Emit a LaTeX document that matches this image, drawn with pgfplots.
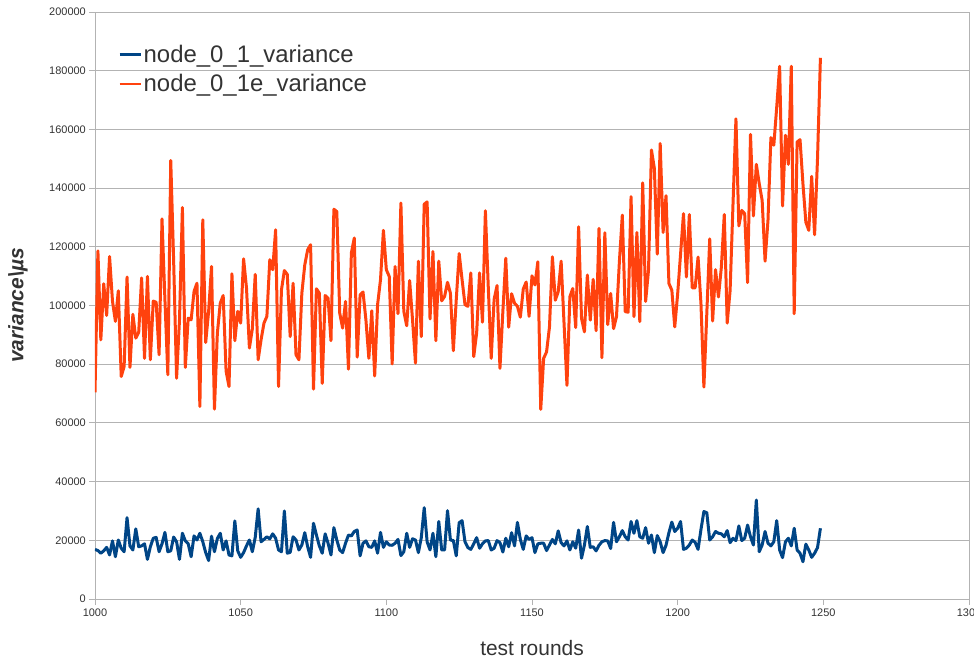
\documentclass[border=0pt]{standalone}
\usepackage{pgfplots}
\pgfplotsset{compat=1.18}
\usepackage{pgfplotstable}
\usepackage{fontspec}
\setmainfont{Liberation Sans}
\definecolor{serA}{HTML}{004586}
\definecolor{serB}{HTML}{FF420E}
\definecolor{gridc}{HTML}{B3B3B3}
\definecolor{txt}{HTML}{333333}
\pgfplotstableread{
x a b
1000 16900 70400
1001 16500 118600
1002 15600 88300
1003 16400 107400
1004 17600 96600
1005 15000 116700
1006 19800 101500
1007 14400 94600
1008 20100 105000
1009 17300 75800
1010 16100 79200
1011 27700 109700
1012 18100 78900
1013 16700 97000
1014 23900 88900
1015 17800 90800
1016 18100 109400
1017 18800 82000
1018 13500 109900
1019 17800 81500
1020 20700 101500
1021 21000 101100
1022 16100 83200
1023 18800 129500
1024 22700 102000
1025 16100 76400
1026 16400 149400
1027 21100 115000
1028 19500 75200
1029 13500 95000
1030 22400 133400
1031 19800 78900
1032 18800 95700
1033 14400 95100
1034 21500 104800
1035 20100 107600
1036 22400 65600
1037 19500 129200
1038 15800 87400
1039 13100 98000
1040 21400 113300
1041 16100 64700
1042 20600 90600
1043 22400 100800
1044 16700 103400
1045 19800 77600
1046 15000 72400
1047 14700 110800
1048 26600 88000
1049 16400 98000
1050 14200 94000
1051 15800 115900
1052 18100 106000
1053 20100 85500
1054 16100 92000
1055 21000 110600
1056 30700 81500
1057 19500 88300
1058 20300 94000
1059 21200 96300
1060 20500 115600
1061 22200 112200
1062 20700 125800
1063 16700 72400
1064 16100 105300
1065 30000 111900
1066 15600 110600
1067 15900 89400
1068 21200 107600
1069 20100 83200
1070 16700 81500
1071 18400 104200
1072 22600 113800
1073 17800 119000
1074 14200 120700
1075 25800 71500
1076 21800 105700
1077 18100 104200
1078 15600 73500
1079 22200 103400
1080 19000 102500
1081 15000 88000
1082 24300 132800
1083 20100 132000
1084 16700 97400
1085 15800 92300
1086 19000 101400
1087 21800 78300
1088 21500 117900
1089 23000 123000
1090 23500 82400
1091 14700 103600
1092 19000 104600
1093 19800 95000
1094 17800 82000
1095 17600 98200
1096 19800 76000
1097 15600 100300
1098 22700 108800
1099 17600 125600
1100 19500 112200
1101 18400 109900
1102 18300 80100
1103 19000 113300
1104 20300 97200
1105 14800 134900
1106 16100 98000
1107 22400 93100
1108 17600 108500
1109 20500 95000
1110 20100 80400
1111 15800 115100
1112 20900 89400
1113 31100 134500
1114 19500 135300
1115 16700 95400
1116 22400 118400
1117 14400 88000
1118 26400 115100
1119 16700 101600
1120 16700 103100
1121 30100 107900
1122 20100 104200
1123 19900 84600
1124 14700 102000
1125 26000 117700
1126 26700 108800
1127 19500 100300
1128 17500 99700
1129 16900 111100
1130 18800 82600
1131 20900 90600
1132 17300 111100
1133 18800 94300
1134 19800 132300
1135 19900 106000
1136 16700 82000
1137 17300 102100
1138 19900 106800
1139 19200 78600
1140 16000 98000
1141 20700 116100
1142 17800 92600
1143 22600 104000
1144 18100 100800
1145 26100 99700
1146 20300 96000
1147 16900 105600
1148 21500 108000
1149 20300 96300
1150 20900 110100
1151 15800 107000
1152 18800 114900
1153 19000 64600
1154 19000 82000
1155 16500 84200
1156 18400 92700
1157 20300 116600
1158 18800 101800
1159 23200 104700
1160 19200 115100
1161 18100 93900
1162 19800 72800
1163 16700 103000
1164 19500 105800
1165 17300 92500
1166 23500 126800
1167 13900 95600
1168 18400 91000
1169 24700 110400
1170 17600 95000
1171 17800 108900
1172 16400 91400
1173 18300 126300
1174 19500 82200
1175 19900 124800
1176 19800 93500
1177 17200 104100
1178 26100 92100
1179 19500 96200
1180 21200 115000
1181 23300 130800
1182 21200 97900
1183 20100 97700
1184 26400 137100
1185 22400 96200
1186 26700 124900
1187 21200 94500
1188 20700 141800
1189 24300 101400
1190 19000 112100
1191 21800 153000
1192 15800 146700
1193 21600 117500
1194 19500 155200
1195 15800 124900
1196 18300 137400
1197 22600 107500
1198 26200 105200
1199 23000 92700
1200 24100 104000
1201 26400 117600
1202 16900 131300
1203 17300 109700
1204 18400 131000
1205 20100 106000
1206 19300 106000
1207 16900 116500
1208 23700 100600
1209 29800 72200
1210 29400 97200
1211 20100 122700
1212 21200 94700
1213 23000 112200
1214 22400 102900
1215 22200 113100
1216 21200 131000
1217 23300 94000
1218 19200 105100
1219 20700 134700
1220 19900 163600
1221 24900 127100
1222 19900 132400
1223 20700 131300
1224 25200 107800
1225 21200 158300
1226 18400 130500
1227 33700 148100
1228 16100 141500
1229 18400 135800
1230 23000 115100
1231 19000 129000
1232 18100 157200
1233 19500 154600
1234 26700 167600
1235 16700 181500
1236 14100 133900
1237 19500 158000
1238 20700 148100
1239 18100 181500
1240 24100 97200
1241 16700 155700
1242 15600 156500
1243 12700 141500
1244 18700 128400
1245 16700 125600
1246 14200 144000
1247 15600 124100
1248 17500 150000
1249 24100 184400
}\datatable
\begin{document}
\begin{tikzpicture}
\begin{axis}[
  scale only axis, width=874bp, height=587bp,
  xmin=1000, xmax=1300, ymin=0, ymax=200000,
  xtick={1000,1050,...,1300}, ytick={0,20000,...,200000},
  scaled ticks=false,
  /pgf/number format/fixed,
  /pgf/number format/1000 sep={},
  /pgf/number format/assume math mode=true,
  tick label style={font=\fontsize{11}{13}\selectfont, text=txt},
  xticklabel style={anchor=north, inner sep=0pt, yshift=-4bp},
  yticklabel style={anchor=east, inner sep=0pt, xshift=-3bp},
  axis line style={gridc, line width=0.8bp},
  ymajorgrids, grid style={gridc, line width=0.8bp},
  tick style={gridc, line width=0.8bp},
  tick align=outside, major tick length=6bp, tick pos=left,
  xlabel={test rounds},
  ylabel={\textbf{\textit{variance\textbackslash µs}}},
  label style={font=\fontsize{21}{25}\selectfont, text=txt},
  xlabel style={at={(axis description cs:0.5,0)}, anchor=center, yshift=-49bp},
  ylabel style={at={(axis description cs:-0.0881,0.5)}, anchor=center},
  legend style={draw=none, fill=none, inner sep=0pt, outer sep=0pt,
    at={(axis description cs:0,1)}, anchor=north west, xshift=23.5bp, yshift=-32.6bp,
    font=\fontsize{24}{28}\selectfont, text=txt, row sep=9.7bp, column sep=1.5bp,
    nodes={inner sep=0.5bp}},
  legend cell align=left,
  legend image code/.code={\draw[#1, line width=2.2bp] (0bp,0bp) -- (21bp,0bp);},
]
\addplot[serA, line width=3bp, line join=round, no markers] table[x=x, y=a]{\datatable};
\addplot[serB, line width=3bp, line join=round, no markers] table[x=x, y=b]{\datatable};
\legend{node\_0\_1\_variance, node\_0\_1e\_variance}
\end{axis}
\pgfresetboundingbox
\useasboundingbox (-95bp,-62bp) rectangle (879bp,599bp);
\end{tikzpicture}
\end{document}
